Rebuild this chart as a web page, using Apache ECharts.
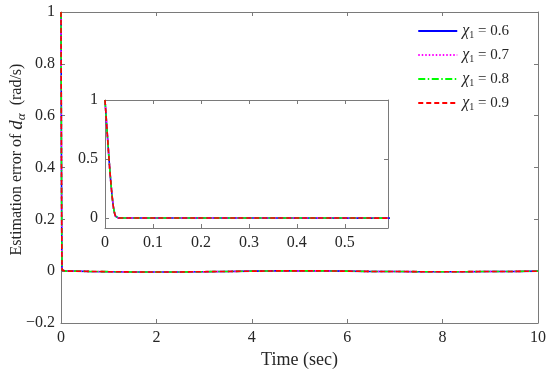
<!DOCTYPE html>
<html>
<head>
<meta charset="utf-8">
<script src="https://cdn.jsdelivr.net/npm/echarts@6/dist/echarts.min.js"></script>
<style>html,body{margin:0;padding:0;background:#fff}#c{width:550px;height:376px}</style>
</head>
<body>
<div id="c"></div>
<script>
// time samples (sec)
const timeValues = [0, 0.002, 0.004, 0.006, 0.008, 0.010, 0.012, 0.014, 0.016, 0.018, 0.020, 0.022, 0.024, 0.026, 0.028, 0.03, 0.1, 0.3, 0.6, 1, 1.5, 2, 2.5, 3, 3.5, 4, 4.5, 5, 5.5, 6, 6.5, 7, 7.5, 8, 8.5, 9, 9.5, 10];
// estimation error for each chi_1 (curves practically coincide)
const err06 = [1, 0.88, 0.76, 0.64, 0.52, 0.41, 0.31, 0.22, 0.14, 0.08, 0.04, 0.015, 0.004, 0.0, 0.0, 0.0, 0.0, 0.0, -0.001, -0.002, -0.003, -0.003, -0.003, -0.002, -0.001, 0.0, 0.001, 0.001, 0.001, 0.0, -0.001, -0.001, -0.002, -0.002, -0.002, -0.001, -0.001, 0.0];
const err07 = [1, 0.88, 0.76, 0.64, 0.52, 0.41, 0.31, 0.22, 0.14, 0.08, 0.04, 0.015, 0.004, 0.0, 0.0, 0.0, 0.0, 0.0, -0.001, -0.002, -0.003, -0.003, -0.003, -0.002, -0.001, 0.0, 0.001, 0.001, 0.001, 0.0, -0.001, -0.001, -0.002, -0.002, -0.002, -0.001, -0.001, 0.0];
const err08 = [1, 0.88, 0.76, 0.64, 0.52, 0.41, 0.31, 0.22, 0.14, 0.08, 0.04, 0.015, 0.004, 0.0, 0.0, 0.0, 0.0, 0.0, -0.001, -0.002, -0.003, -0.003, -0.003, -0.002, -0.001, 0.0, 0.001, 0.001, 0.001, 0.0, -0.001, -0.001, -0.002, -0.002, -0.002, -0.001, -0.001, 0.0];
const err09 = [1, 0.88, 0.76, 0.64, 0.52, 0.41, 0.31, 0.22, 0.14, 0.08, 0.04, 0.015, 0.004, 0.0, 0.0, 0.0, 0.0, 0.0, -0.001, -0.002, -0.003, -0.003, -0.003, -0.002, -0.001, 0.0, 0.001, 0.001, 0.001, 0.0, -0.001, -0.001, -0.002, -0.002, -0.002, -0.001, -0.001, 0.0];
const seriesNames = ['0.6', '0.7', '0.8', '0.9'];
const insetYTicks = [0, 0.5, 1];
const insetXTicks = [0, 0.1, 0.2, 0.3, 0.4, 0.5];

const FONT = 'Liberation Serif';
const AX = '#7a7a7a';
const TXT = '#262626';
const colors = ['#0000ff', '#ff00ff', '#00ff00', '#ff0000'];
const lineTypes = ['solid', [1.5, 2], [7, 2.5, 1.5, 2.5], [5, 3]];
const dataSets = [err06, err07, err08, err09];

function pairs(arr) { return timeValues.map((t, i) => [t, arr[i]]); }

function axisBase(extra) {
  return Object.assign({
    axisLine: { show: true, onZero: false, lineStyle: { color: AX, width: 1 } },
    axisTick: { show: true, inside: true, length: 4, lineStyle: { color: AX } },
    splitLine: { show: false },
    axisLabel: { color: TXT, fontFamily: FONT, fontSize: 16 }
  }, extra);
}

const series = [];
dataSets.forEach((d, i) => {
  series.push({
    name: seriesNames[i], type: 'line', xAxisIndex: 0, yAxisIndex: 0,
    data: pairs(d), showSymbol: false, symbol: 'none',
    lineStyle: { color: colors[i], width: 1.6, type: lineTypes[i] },
    itemStyle: { color: colors[i] }, z: 2 + i, animation: false
  });
});
dataSets.forEach((d, i) => {
  series.push({
    name: seriesNames[i], type: 'line', xAxisIndex: 2, yAxisIndex: 2,
    data: pairs(d), showSymbol: false, symbol: 'none', clip: true,
    lineStyle: { color: colors[i], width: 1.6, type: lineTypes[i] },
    itemStyle: { color: colors[i] }, z: 12 + i, animation: false
  });
});

const insetTick = ticks => ({ show: true, inside: true, length: 4, lineStyle: { color: AX }, customValues: ticks });

const option = {
  backgroundColor: '#fff',
  animation: false,
  grid: [
    { left: 61, right: 12, top: 12, bottom: 53, containLabel: false, outerBoundsMode: 'none' },
    { left: 105, width: 283, top: 100, height: 128, backgroundColor: '#fff', show: true, borderWidth: 0, z: 10, containLabel: false, outerBoundsMode: 'none' }
  ],
  legend: {
    orient: 'vertical', right: 36, top: 18, itemWidth: 39, itemHeight: 14, itemGap: 7,
    data: seriesNames,
    itemStyle: { color: 'rgba(0,0,0,0)', borderWidth: 0, opacity: 0 },
    formatter: n => '{it|χ}{sub|1}{n| = ' + n + '}',
    textStyle: {
      color: TXT, fontFamily: FONT, fontSize: 15,
      rich: {
        it: { fontFamily: FONT, fontStyle: 'italic', fontSize: 16, color: TXT },
        sub: { fontFamily: FONT, fontSize: 10, color: TXT, padding: [8, 0, 0, 0] },
        n: { fontFamily: FONT, fontSize: 15, color: TXT }
      }
    }
  },
  xAxis: [
    axisBase({ type: 'value', gridIndex: 0, min: 0, max: 10, interval: 2, position: 'bottom',
      name: 'Time (sec)', nameLocation: 'middle', nameGap: 28,
      nameTextStyle: { color: TXT, fontFamily: FONT, fontSize: 18 },
      axisLabel: { color: TXT, fontFamily: FONT, fontSize: 16, margin: 7 } }),
    axisBase({ type: 'value', gridIndex: 0, min: 0, max: 10, interval: 2, position: 'top', axisLabel: { show: false } }),
    axisBase({ type: 'value', gridIndex: 1, min: 0, max: 0.59, position: 'bottom', z: 11,
      axisTick: insetTick(insetXTicks),
      axisLabel: { color: TXT, fontFamily: FONT, fontSize: 16, margin: 7, customValues: insetXTicks } }),
    axisBase({ type: 'value', gridIndex: 1, min: 0, max: 0.59, position: 'top', z: 11,
      axisTick: insetTick(insetXTicks), axisLabel: { show: false } })
  ],
  yAxis: [
    axisBase({ type: 'value', gridIndex: 0, min: -0.2, max: 1, interval: 0.2, position: 'left',
      name: 'Estimation error of {it|d}{sub|α}{n|  (rad/s)}', nameLocation: 'middle', nameGap: 33,
      nameMoveOverlap: false,
      nameTextStyle: { color: TXT, fontFamily: FONT, fontSize: 16, padding: [0, 0, 0, 16],
        rich: {
          it: { fontFamily: FONT, fontStyle: 'italic', fontSize: 19, color: TXT },
          sub: { fontFamily: FONT, fontStyle: 'italic', fontSize: 13, color: TXT, padding: [10, 0, 0, 0] },
          n: { fontFamily: FONT, fontSize: 16, color: TXT }
        } },
      axisLabel: { color: TXT, fontFamily: FONT, fontSize: 16, margin: 6,
        formatter: v => (Math.abs(v) < 1e-9 ? '0' : (v < 0 ? '\u2212' + (+(-v).toFixed(1)) : String(+v.toFixed(1)))) } }),
    axisBase({ type: 'value', gridIndex: 0, min: -0.2, max: 1, interval: 0.2, position: 'right', axisLabel: { show: false } }),
    axisBase({ type: 'value', gridIndex: 1, min: -0.085, max: 1, position: 'left', z: 11,
      axisTick: insetTick(insetYTicks),
      axisLabel: { color: TXT, fontFamily: FONT, fontSize: 16, margin: 7, customValues: insetYTicks } }),
    axisBase({ type: 'value', gridIndex: 1, min: -0.085, max: 1, position: 'right', z: 11,
      axisTick: insetTick(insetYTicks), axisLabel: { show: false } })
  ],
  series: series
};

const chart = echarts.init(document.getElementById('c'), null, { renderer: 'canvas' });
chart.setOption(option);
</script>
</body>
</html>
